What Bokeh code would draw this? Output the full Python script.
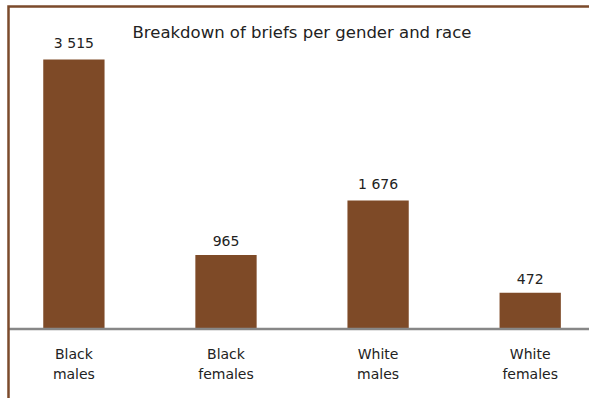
from bokeh.plotting import figure
from bokeh.models import Range1d, ColumnDataSource
from bokeh.core.properties import value
from bokeh.embed import file_html
from bokeh.resources import INLINE

# Data
categories = ["Black\nmales", "Black\nfemales", "White\nmales", "White\nfemales"]
counts = [3515, 965, 1676, 472]
count_labels = ["3 515", "965", "1 676", "472"]
title_text = "Breakdown of briefs per gender and race"

W, H = 589, 398
FONT = "DejaVu Sans"
BROWN = "#7e4a27"
FRAME = "#7b4a2b"
INK = "#222222"

# pixel layout of the category axis and value axis
X0_PX, STEP_PX = 73.4, 152.1          # centre of first bar, spacing between bars
BASE_PX, SCALE = 328.5, 0.07667        # baseline row, pixels per brief


def px_to_x(px):
    return (px - X0_PX) / STEP_PX


def py_to_y(py):
    return (BASE_PX - py) / SCALE


p = figure(width=W, height=H, output_backend="svg", toolbar_location=None,
           x_range=Range1d(px_to_x(0), px_to_x(W)),
           y_range=Range1d(py_to_y(H), py_to_y(0)),
           min_border=0, outline_line_color=None)
p.axis.visible = False
p.grid.visible = False
p.background_fill_color = "white"
p.border_fill_color = "white"

idx = list(range(len(categories)))
src = ColumnDataSource(dict(x=idx, top=counts, label=count_labels, cat=categories))

p.vbar(x="x", top="top", bottom=0, width=0.403, source=src,
       fill_color=BROWN, line_color=None)

left_x, top_y = px_to_x(8), py_to_y(6)
right_x, bottom_y = px_to_x(W + 5), py_to_y(H + 5)

# baseline, starting at the left frame line
p.segment(x0=[left_x], y0=[0], x1=[right_x], y1=[0],
          line_color="#878787", line_width=2.5)
# frame lines on the left and top, joined at the corner
p.line(x=[left_x, left_x, right_x], y=[bottom_y, top_y, top_y],
       line_color=FRAME, line_width=2.5, line_join="miter")

# value labels above the bars
p.text(x="x", y="top", text="label", source=src, y_offset=-9,
       text_align="center", text_baseline="bottom",
       text_font=value(FONT), text_font_size="14px", text_color=INK)

# category labels below the baseline
p.text(x="x", y=0, text="cat", source=src, y_offset=17,
       text_align="center", text_baseline="top", text_line_height=1.25,
       text_font=value(FONT), text_font_size="14px", text_color=INK)

# title
p.text(x=[px_to_x(301.5)], y=[py_to_y(31.5)], text=[title_text],
       text_align="center", text_baseline="middle",
       text_font=value(FONT), text_font_size="16.5px", text_color=INK)

open("out.html", "w").write(file_html(p, INLINE))
